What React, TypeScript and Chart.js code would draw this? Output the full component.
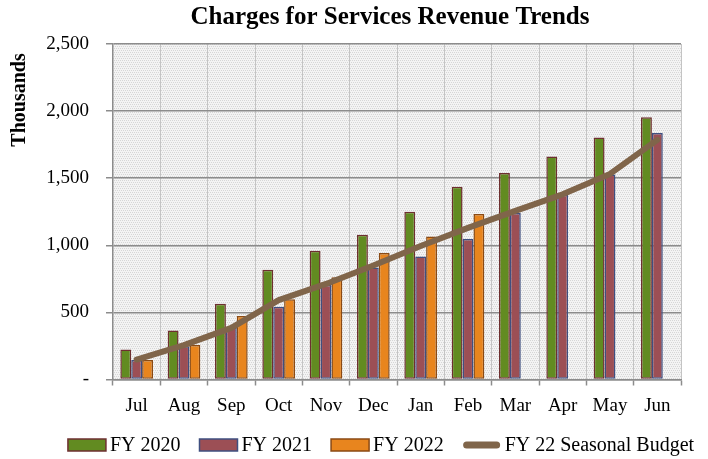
import React, { useEffect, useRef } from "react";
import { Chart, registerables } from "chart.js";

Chart.register(...registerables);

const months = ["Jul", "Aug", "Sep", "Oct", "Nov", "Dec", "Jan", "Feb", "Mar", "Apr", "May", "Jun"];
const fy2020 = [223, 365, 565, 818, 960, 1079, 1250, 1437, 1538, 1661, 1803, 1955];
const fy2021 = [145, 248, 388, 543, 705, 835, 916, 1047, 1240, 1376, 1527, 1836];
const fy2022 = [145, 258, 474, 598, 762, 943, 1065, 1233, null, null, null, null];
const budget = [149, 256, 385, 592, 712, 850, 995, 1130, 1256, 1380, 1532, 1786];
const yTicks = [0, 500, 1000, 1500, 2000, 2500];

const TITLE = "Charges for Services Revenue Trends";
const Y_TITLE = "Thousands";
const FONT = "'Liberation Serif', 'Times New Roman', serif";

function makePattern(): CanvasPattern | string {
  const c = document.createElement("canvas");
  c.width = 4;
  c.height = 4;
  const g = c.getContext("2d");
  if (!g) return "#ececec";
  g.fillStyle = "#f3f3f3";
  g.fillRect(0, 0, 4, 4);
  g.fillStyle = "#d6d6d6";
  g.fillRect(0, 0, 1, 1);
  g.fillRect(2, 0, 1, 1);
  g.fillRect(1, 2, 1, 1);
  g.fillRect(3, 2, 1, 1);
  const p = g.createPattern(c, "repeat");
  return p || "#ececec";
}

const decorPlugin = {
  id: "decor",
  beforeDraw(chart: any) {
    const { ctx, chartArea } = chart;
    ctx.save();
    ctx.fillStyle = makePattern();
    ctx.fillRect(chartArea.left, chartArea.top, chartArea.right - chartArea.left, chartArea.bottom - chartArea.top);
    ctx.restore();
  },
  afterDraw(chart: any) {
    const { ctx, chartArea } = chart;
    const midX = (chartArea.left + chartArea.right) / 2;
    ctx.save();
    ctx.fillStyle = "#000";
    ctx.textAlign = "center";
    ctx.textBaseline = "middle";
    ctx.font = `bold 25px ${FONT}`;
    ctx.fillText(TITLE, midX - 7, 18);

    // legend
    ctx.font = `20px ${FONT}`;
    const boxW = 38;
    const boxH = 12;
    const gapText = 4;
    const gapItem = 19;
    const items = chart.data.datasets.map((ds: any) => ({
      ds,
      w: boxW + gapText + ctx.measureText(ds.label).width,
    }));
    const total = items.reduce((a: number, it: any) => a + it.w, 0) + gapItem * (items.length - 1);
    let x = midX - 16 - total / 2;
    const cy = 445;
    ctx.textAlign = "left";
    for (const it of items) {
      const ds = it.ds;
      if (ds.type === "line") {
        ctx.strokeStyle = ds.borderColor;
        ctx.lineWidth = 7;
        ctx.lineCap = "round";
        ctx.beginPath();
        ctx.moveTo(x + 4, cy);
        ctx.lineTo(x + boxW - 4, cy);
        ctx.stroke();
      } else {
        ctx.fillStyle = ds.backgroundColor;
        ctx.fillRect(x, cy - boxH / 2, boxW, boxH);
        ctx.strokeStyle = ds.borderColor;
        ctx.lineWidth = 1.5;
        ctx.strokeRect(x, cy - boxH / 2, boxW, boxH);
      }
      ctx.fillStyle = "#000";
      ctx.fillText(ds.label, x + boxW + gapText, cy + 1);
      x += it.w + gapItem;
    }

    ctx.translate(20, 100);
    ctx.rotate(-Math.PI / 2);
    ctx.textAlign = "center";
    ctx.font = `bold 20px ${FONT}`;
    ctx.fillText(Y_TITLE, 0, 0);
    ctx.restore();
  },
};

export default function App() {
  const ref = useRef<HTMLCanvasElement>(null);

  useEffect(() => {
    document.body.style.margin = "0";
    if (!ref.current) return;
    const barCommon = { categoryPercentage: 0.69, barPercentage: 1.0, borderWidth: 1.5, borderSkipped: false, order: 1 };
    const chart = new Chart(ref.current, {
      type: "bar",
      data: {
        labels: months,
        datasets: [
          { ...barCommon, type: "bar", label: "FY 2020", data: fy2020, backgroundColor: "#628B21", borderColor: "#6E2F30" },
          { ...barCommon, type: "bar", label: "FY 2021", data: fy2021, backgroundColor: "#9C4F55", borderColor: "#3F4F80" },
          { ...barCommon, type: "bar", label: "FY 2022", data: fy2022, backgroundColor: "#E8851E", borderColor: "#8A4A14" },
          {
            type: "line",
            label: "FY 22 Seasonal Budget",
            data: budget,
            borderColor: "#80654A",
            backgroundColor: "#80654A",
            borderWidth: 6,
            pointRadius: 0,
            tension: 0,
            borderCapStyle: "round",
            borderJoinStyle: "round",
            order: 0,
          } as any,
        ],
      },
      options: {
        animation: false,
        responsive: false,
        maintainAspectRatio: false,
        layout: { padding: { left: 0, right: 27, top: 44, bottom: 41.5 } },
        plugins: {
          title: { display: false },
          tooltip: { enabled: false },
          legend: { display: false },
        },
        scales: {
          x: {
            afterFit: (s: any) => {
              s.height = 38;
            },
            grid: {
              offset: true,
              color: "#c4c4c4",
              lineWidth: 1,
              borderDash: [2, 2],
              tickColor: "#8c8c8c",
              tickBorderDash: [],
              tickLength: 6,
              tickWidth: 1.5,
            },
            border: { color: "#8c8c8c", width: 1.5 },
            ticks: { font: { family: FONT, size: 19 }, color: "#000", padding: 9, maxRotation: 0 },
          },
          y: {
            min: 0,
            max: 2500,
            afterFit: (s: any) => {
              s.width = 113;
            },
            afterBuildTicks: (s: any) => {
              s.ticks = yTicks.map((v) => ({ value: v }));
            },
            grid: { color: "#8c8c8c", lineWidth: 1.5, tickLength: 7 },
            border: { color: "#8c8c8c", width: 1.5 },
            ticks: {
              font: { family: FONT, size: 19 },
              color: "#000",
              padding: 17,
              callback: (v: any) => (Number(v) === 0 ? "-" : Number(v).toLocaleString("en-US")),
            },
          },
        },
      },
      plugins: [decorPlugin],
    } as any);
    return () => chart.destroy();
  }, []);

  return (
    <div style={{ width: 708, height: 459 }}>
      <canvas ref={ref} width={708} height={459} style={{ display: "block", width: 708, height: 459 }} />
    </div>
  );
}
